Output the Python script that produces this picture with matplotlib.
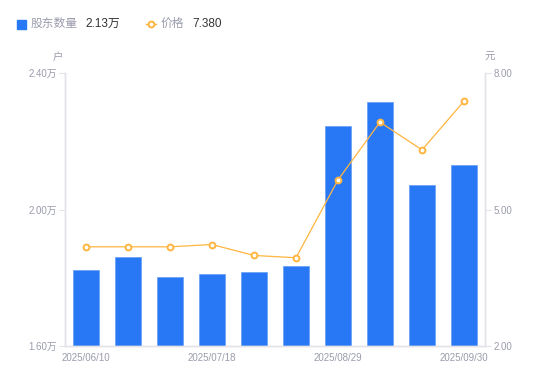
import matplotlib.pyplot as plt
from matplotlib.lines import Line2D
from matplotlib.patches import Rectangle

plt.rcParams['font.family'] = ['Liberation Sans', 'Noto Sans CJK SC', 'DejaVu Sans']

# --------------------------------------------------
# Data
# --------------------------------------------------
dates = ["2025/06/10", "2025/06/20", "2025/06/30", "2025/07/18", "2025/07/31",
         "2025/08/20", "2025/08/29", "2025/09/10", "2025/09/19", "2025/09/30"]
holders = [1.822, 1.861, 1.802, 1.810, 1.817, 1.833, 2.246, 2.314, 2.071, 2.130]  # 万户
price = [4.18, 4.18, 4.18, 4.23, 3.99, 3.94, 5.65, 6.92, 6.31, 7.38]

BLUE = "#2878F5"
ORANGE = "#FFB53F"
GREY = "#9A9CAB"
AXIS = "#E3E3E8"

# --------------------------------------------------
# Plot
# --------------------------------------------------
fig = plt.figure(figsize=(5.5, 3.81), dpi=100)
ax = fig.add_axes([65 / 550, 1 - 346 / 381, 420 / 550, 273 / 381])
ax2 = ax.twinx()

x = list(range(len(dates)))
ax.bar(x, holders, width=0.6, color=BLUE, edgecolor="#6FA3F8", linewidth=0.6, zorder=2)
ax2.plot(x, price, color=ORANGE, linewidth=0.9, marker="o", markersize=4.2,
         markerfacecolor="white", markeredgecolor=ORANGE, markeredgewidth=1.4, zorder=3)

ax.set_xlim(-0.5, len(dates) - 0.5)
ax.set_ylim(1.6, 2.4)
ax2.set_ylim(2.0, 8.0)

ax.set_yticks([1.6, 2.0, 2.4])
ax.set_yticklabels(["1.60万", "2.00万", "2.40万"])
ax2.set_yticks([2.0, 5.0, 8.0])
ax2.set_yticklabels(["2.00", "5.00", "8.00"])
ax.set_xticks([0, 3, 6, 9])
ax.set_xticklabels([dates[i] for i in (0, 3, 6, 9)])

for a in (ax, ax2):
    for s in a.spines.values():
        s.set_color(AXIS)
        s.set_linewidth(1)
    a.spines["top"].set_visible(False)
ax.tick_params(axis="y", colors=AXIS, labelcolor=GREY, labelsize=7, length=4, pad=2)
ax2.tick_params(axis="y", colors=AXIS, labelcolor=GREY, labelsize=7, length=4, pad=2)
ax.tick_params(axis="x", length=0, labelcolor=GREY, labelsize=7, pad=5)

# unit labels
fig.text(58 / 550, 1 - 57 / 381, "户", color=GREY, fontsize=7.5, ha="center", va="center")
fig.text(490 / 550, 1 - 57 / 381, "元", color=GREY, fontsize=7.5, ha="center", va="center")

# legend header
fig.patches.append(Rectangle((17 / 550, 1 - 29 / 381), 9 / 550, 9 / 381,
                             transform=fig.transFigure, color=BLUE))
fig.text(31 / 550, 1 - 24 / 381, "股东数量", color=GREY, fontsize=8.5, va="center")
fig.text(85 / 550, 1 - 24 / 381, "2.13万", color="#333333", fontsize=8.5, va="center")
fig.lines.append(Line2D([146 / 550, 156 / 550], [1 - 24 / 381, 1 - 24 / 381],
                        transform=fig.transFigure, color=ORANGE, linewidth=1))
fig.lines.append(Line2D([151 / 550], [1 - 24 / 381], transform=fig.transFigure,
                        color=ORANGE, marker="o", markersize=4.2,
                        markerfacecolor="white", markeredgewidth=1.4))
fig.text(161 / 550, 1 - 24 / 381, "价格", color=GREY, fontsize=8.5, va="center")
fig.text(192 / 550, 1 - 24 / 381, "7.380", color="#333333", fontsize=8.5, va="center")

plt.savefig("out.png", dpi=100)
